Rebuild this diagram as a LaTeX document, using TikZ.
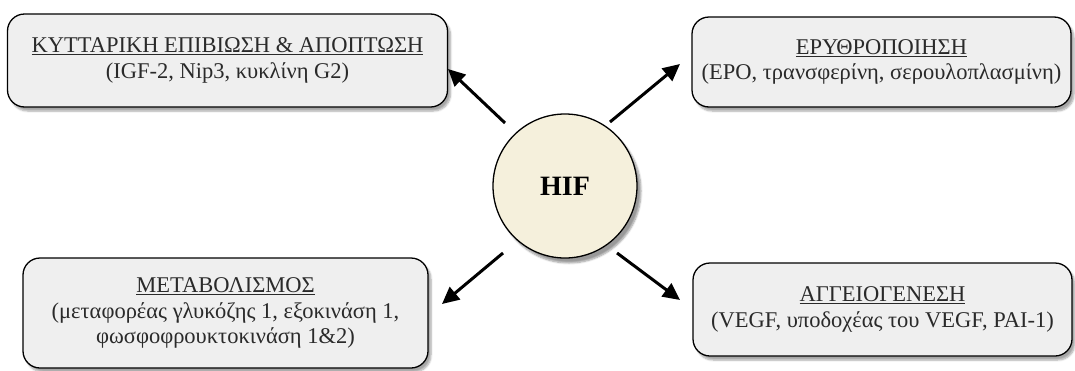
\documentclass[tikz,border=0pt]{standalone}
\usepackage{fontspec}
\setmainfont{Liberation Serif}
\usetikzlibrary{shadows.blur,arrows.meta}
\definecolor{boxfill}{HTML}{EFEFEF}
\definecolor{hiffill}{HTML}{F5F0DC}
\definecolor{txt}{HTML}{2A2A2A}
\tikzset{
  infobox/.style={draw=black, line width=1.3pt, rounded corners=17pt, fill=boxfill,
    align=center, text=txt, font=\fontsize{22.5}{25.5}\selectfont, inner sep=0pt,
    blur shadow={shadow xshift=3pt, shadow yshift=-4pt, shadow blur steps=6, shadow opacity=35}},
  hifnode/.style={circle, draw=black, line width=1.3pt, fill=hiffill, minimum size=144pt,
    inner sep=0pt, font=\fontsize{28}{30}\selectfont\bfseries,
    blur shadow={shadow xshift=4pt, shadow yshift=-5pt, shadow blur steps=6, shadow opacity=40}},
  arr/.style={line width=3pt, -{Triangle[length=17pt,width=16pt]}}
}
\begin{document}
\begin{tikzpicture}[x=1pt,y=-1pt]
\useasboundingbox (0,0) rectangle (1075,370);
\node[infobox, minimum width=440pt, minimum height=93pt] (b1) at (227.5,60.5)
  {\underline{ΚΥΤΤΑΡΙΚΗ ΕΠΙΒΙΩΣΗ \& ΑΠΟΠΤΩΣΗ}\\(IGF-2, Nip3, κυκλίνη G2)};
\node[infobox, minimum width=379pt, minimum height=90pt] (b2) at (881.5,62)
  {\underline{ΕΡΥΘΡΟΠΟΙΗΣΗ}\\(ΕΡΟ, τρανσφερίνη, σερουλοπλασμίνη)};
\node[infobox, minimum width=405pt, minimum height=110pt] (b3) at (225.5,313)
  {\underline{ΜΕΤΑΒΟΛΙΣΜΟΣ}\\(μεταφορέας γλυκόζης 1, εξοκινάση 1,\\φωσφοφρουκτοκινάση 1\&2)};
\node[infobox, minimum width=379pt, minimum height=93pt] (b4) at (882.5,309.5)
  {\underline{ΑΓΓΕΙΟΓΕΝΕΣΗ}\\(VEGF, υποδοχέας του VEGF, PAI-1)};
\node[hifnode] (hif) at (565,186) {HIF};
\coordinate (a1s) at (505,123); \coordinate (a1e) at (448,69);
\coordinate (a2s) at (610,122); \coordinate (a2e) at (680,64);
\coordinate (a3s) at (503,253); \coordinate (a3e) at (442,304);
\coordinate (a4s) at (617,253); \coordinate (a4e) at (680,300);
\draw[arr] (a1s) -- (a1e);
\draw[arr] (a2s) -- (a2e);
\draw[arr] (a3s) -- (a3e);
\draw[arr] (a4s) -- (a4e);
\end{tikzpicture}
\end{document}
